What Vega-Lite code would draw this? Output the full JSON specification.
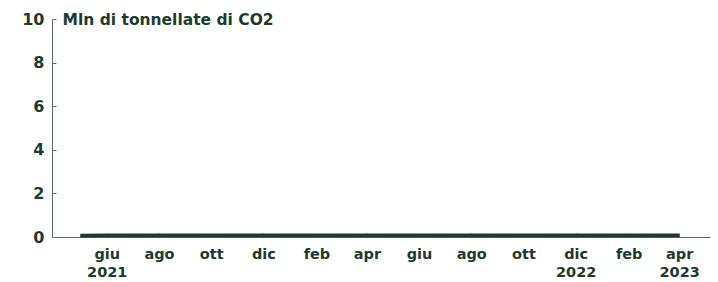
{
  "$schema": "https://vega.github.io/schema/vega-lite/v6.json",
  "width": 658,
  "height": 218,
  "autosize": {"type": "none"},
  "padding": {"left": 52, "top": 19, "right": 8, "bottom": 45},
  "background": "white",
  "config": {
    "view": {"stroke": null},
    "font": "DejaVu Sans",
    "axis": {
      "labelFont": "DejaVu Sans",
      "labelFontWeight": "bold",
      "labelColor": "#1f3a2c",
      "domainColor": "#5b6b63",
      "tickColor": "#5b6b63",
      "grid": false
    }
  },
  "data": {
    "values": [
      {"date": "2021-05-01", "value": 0.06},
      {"date": "2021-06-01", "value": 0.07},
      {"date": "2021-07-01", "value": 0.07},
      {"date": "2021-08-01", "value": 0.07},
      {"date": "2021-09-01", "value": 0.07},
      {"date": "2021-10-01", "value": 0.07},
      {"date": "2021-11-01", "value": 0.07},
      {"date": "2021-12-01", "value": 0.07},
      {"date": "2022-01-01", "value": 0.07},
      {"date": "2022-02-01", "value": 0.07},
      {"date": "2022-03-01", "value": 0.07},
      {"date": "2022-04-01", "value": 0.07},
      {"date": "2022-05-01", "value": 0.07},
      {"date": "2022-06-01", "value": 0.07},
      {"date": "2022-07-01", "value": 0.07},
      {"date": "2022-08-01", "value": 0.07},
      {"date": "2022-09-01", "value": 0.07},
      {"date": "2022-10-01", "value": 0.07},
      {"date": "2022-11-01", "value": 0.07},
      {"date": "2022-12-01", "value": 0.07},
      {"date": "2023-01-01", "value": 0.07},
      {"date": "2023-02-01", "value": 0.07},
      {"date": "2023-03-01", "value": 0.07},
      {"date": "2023-04-01", "value": 0.07}
    ]
  },
  "mark": {"type": "line", "color": "#1f3a2c", "strokeWidth": 3.8, "clip": false},
  "encoding": {
    "x": {
      "field": "date",
      "type": "temporal",
      "scale": {
        "type": "utc",
        "domain": [
          {"year": 2021, "month": 3, "date": 29, "utc": true},
          {"year": 2023, "month": 5, "date": 7, "utc": true}
        ]
      },
      "axis": {
        "title": null,
        "values": [
          {"year": 2021, "month": 6, "date": 1, "utc": true},
          {"year": 2021, "month": 8, "date": 1, "utc": true},
          {"year": 2021, "month": 10, "date": 1, "utc": true},
          {"year": 2021, "month": 12, "date": 1, "utc": true},
          {"year": 2022, "month": 2, "date": 1, "utc": true},
          {"year": 2022, "month": 4, "date": 1, "utc": true},
          {"year": 2022, "month": 6, "date": 1, "utc": true},
          {"year": 2022, "month": 8, "date": 1, "utc": true},
          {"year": 2022, "month": 10, "date": 1, "utc": true},
          {"year": 2022, "month": 12, "date": 1, "utc": true},
          {"year": 2023, "month": 2, "date": 1, "utc": true},
          {"year": 2023, "month": 4, "date": 1, "utc": true}
        ],
        "labelExpr": "(utcFormat(datum.value,'%Y-%m')=='2021-06' || utcFormat(datum.value,'%Y-%m')=='2022-12' || utcFormat(datum.value,'%Y-%m')=='2023-04') ? [['gen','feb','mar','apr','mag','giu','lug','ago','set','ott','nov','dic'][utcmonth(datum.value)], utcFormat(datum.value,'%Y')] : ['gen','feb','mar','apr','mag','giu','lug','ago','set','ott','nov','dic'][utcmonth(datum.value)]",
        "labelFontSize": 14.5,
        "tickSize": -4,
        "labelPadding": 14,
        "labelLineHeight": 18,
        "labelFlush": false,
        "labelOverlap": false
      }
    },
    "y": {
      "field": "value",
      "type": "quantitative",
      "scale": {"domain": [0, 10], "nice": false},
      "axis": {
        "values": [0, 2, 4, 6, 8, 10],
        "labelFontSize": 16,
        "tickSize": -4,
        "labelPadding": 12,
        "title": "Mln di tonnellate di CO2",
        "titleAngle": 0,
        "titleAlign": "left",
        "titleBaseline": "middle",
        "titleX": 10,
        "titleY": 0,
        "titleFont": "DejaVu Sans",
        "titleFontWeight": "bold",
        "titleFontSize": 15.5,
        "titleColor": "#1f3a2c"
      }
    }
  }
}
